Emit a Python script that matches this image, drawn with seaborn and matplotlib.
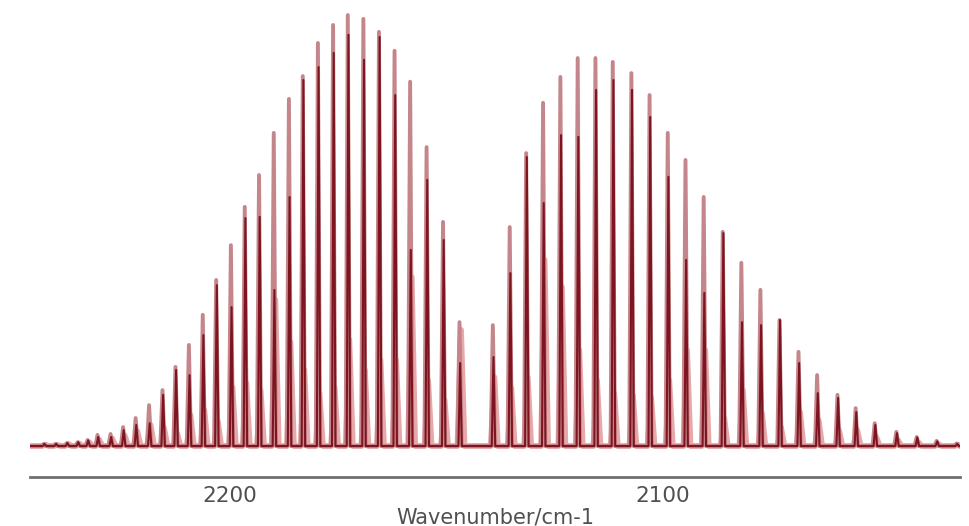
import matplotlib
matplotlib.use("Agg")
import matplotlib.pyplot as plt
import numpy as np
import pandas as pd
import seaborn as sns
from matplotlib.ticker import MultipleLocator

sns.set_style("white")
plt.rcParams['font.family'] = ['DejaVu Sans']

# CO fundamental band, R branch (left) and P branch (right), cm-1
r_lines = [2242.9, 2240.2, 2237.6, 2235.1, 2232.8, 2230.5, 2227.5, 2224.6, 2221.7, 2218.6,
           2215.5, 2212.5, 2209.4, 2206.2, 2203.1, 2199.7, 2196.5, 2193.2, 2189.8, 2186.3,
           2183.1, 2179.6, 2176.1, 2172.7, 2169.1, 2165.5, 2161.9, 2158.3, 2154.5, 2150.7,
           2146.9]
p_lines = [2139.2, 2135.3, 2131.5, 2127.6, 2123.6, 2119.6, 2115.5, 2111.5, 2107.2, 2103.0,
           2098.8, 2094.7, 2090.5, 2086.1, 2081.8, 2077.4, 2073.0, 2068.6, 2064.3, 2059.6,
           2055.4, 2051.0, 2046.0, 2041.3, 2036.7, 2032.1]

# peak heights (arbitrary absorbance units), three overlaid traces
r_top = [0.5, 0.5, 0.7, 0.9, 1.4, 2.6, 2.8, 4.4, 6.5, 9.5,
         13.0, 18.4, 23.5, 30.5, 38.6, 46.7, 55.6, 63.0, 72.8, 80.7,
         86.0, 93.7, 97.9, 100.2, 99.3, 96.3, 91.9, 84.7, 69.5, 52.1,
         28.8]
r_dark = [0.5, 0.5, 0.7, 0.9, 1.3, 2.1, 2.1, 3.7, 4.9, 5.3,
          11.9, 17.7, 16.5, 25.8, 37.4, 32.3, 53.0, 53.3, 36.3, 57.9,
          85.1, 88.1, 91.4, 95.6, 89.8, 95.1, 81.6, 45.6, 61.9, 47.9,
          19.3]
r_pink = [0.3, 0.3, 0.5, 0.6, 0.9, 1.5, 1.8, 2.5, 3.5, 4.9,
          4.2, 3.0, 7.2, 8.4, 6.0, 13.7, 14.7, 13.0, 34.0, 24.2,
          17.7, 12.3, 13.7, 24.7, 17.7, 20.0, 20.0, 39.3, 15.3, 10.7,
          27.0]
p_top = [28.1, 50.9, 68.1, 79.8, 85.8, 90.2, 90.2, 89.3, 86.7, 81.6,
         72.8, 66.5, 57.9, 49.8, 42.6, 36.3, 29.3, 21.9, 16.5, 11.9,
         8.8, 5.3, 3.3, 2.1, 1.2, 0.6]
p_dark = [20.7, 40.2, 67.2, 56.5, 72.3, 71.9, 82.8, 85.1, 82.8, 76.5,
          62.6, 43.3, 35.6, 49.5, 28.8, 28.1, 29.3, 19.3, 12.3, 11.2,
          7.9, 4.9, 3.0, 2.0, 1.1, 0.5]
p_pink = [16.0, 13.5, 16.0, 43.3, 37.0, 22.3, 15.3, 12.3, 11.9, 11.4,
          15.3, 22.3, 22.3, 6.5, 13.0, 7.7, 4.4, 7.9, 6.0, 3.7,
          3.7, 2.1, 1.4, 0.9, 0.5, 0.3]

x_range = (2246.2, 2031.4)
y_range = (-7.2, 103.7)

positions = r_lines + p_lines


def spike_trace(heights, half, shift=0.0):
    rows = [(x_range[0], 0.0)]
    for p, h in zip(positions, heights):
        p = p + shift
        rows += [(p + half, 0.0), (p, h), (p - half, 0.0)]
    rows.append((x_range[1], 0.0))
    return pd.DataFrame(rows, columns=["wavenumber", "absorbance"])


fig = plt.figure(figsize=(9.7, 5.26), dpi=100)
ax = fig.add_axes([30 / 970, 49 / 526, 930 / 970, 477 / 526])

# wide pink trace, tall rose trace, dark red core
traces = [
    (r_pink + p_pink, 0.8, -0.25, "#e6a8a8", 4.2),
    (r_top + p_top, 0.5, 0.1, "#c4868b", 2.8),
    (r_dark + p_dark, 0.4, -0.05, "#7d1420", 1.5),
]
for heights, half, shift, color, lw in traces:
    sns.lineplot(data=spike_trace(heights, half, shift), x="wavenumber", y="absorbance",
                 sort=False, estimator=None, color=color, lw=lw, ax=ax)

ax.set_xlim(*x_range)
ax.set_ylim(*y_range)
ax.set_yticks([])
ax.set_ylabel("")

sns.despine(ax=ax, left=True, top=True, right=True)
ax.spines["bottom"].set_color("#707070")
ax.spines["bottom"].set_linewidth(2.0)

ax.set_xticks([2200, 2100])
ax.xaxis.set_minor_locator(MultipleLocator(20))
ax.tick_params(axis="x", which="major", direction="in", length=11, width=1.5,
               color="#555555", labelcolor="#505050", labelsize=15.5, pad=6.5)
ax.tick_params(axis="x", which="minor", direction="in", length=5, width=1.5,
               color="#555555")

ax.set_xlabel("Wavenumber/cm-1", fontsize=15, color="#505050")
ax.xaxis.label.set_va("baseline")
ax.xaxis.set_label_coords(0.5, -0.097)

fig.savefig("out.png", dpi=100)
